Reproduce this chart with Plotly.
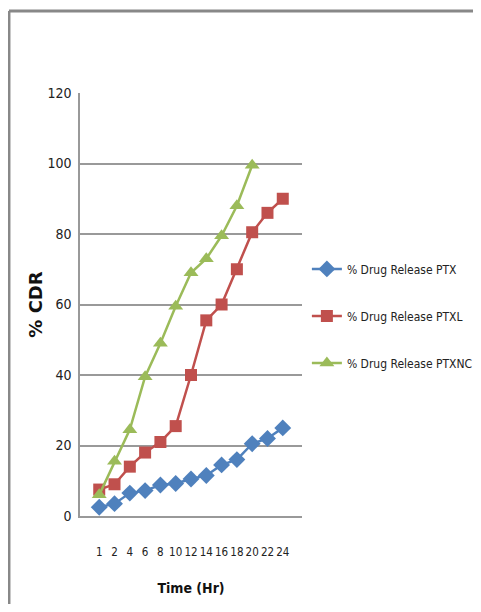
import plotly.graph_objects as go

time_hr = ["1", "2", "4", "6", "8", "10", "12", "14", "16", "18", "20", "22", "24"]
ptx = [2.5, 3.5, 6.5, 7.2, 8.8, 9.2, 10.5, 11.5, 14.5, 16, 20.5, 22, 25]
ptxl = [7.5, 9, 14, 18, 21, 25.5, 40, 55.5, 60, 70, 80.5, 86, 90]
ptxnc = [6, 15.5, 24.5, 39.5, 49, 59.5, 69, 73, 79.5, 88, 99.5, None, None]
y_ticks = [0, 20, 40, 60, 80, 100, 120]

FONT = "DejaVu Sans Condensed, Liberation Sans Narrow, sans-serif"

series = [
    ("% Drug Release PTX", ptx, "#4F81BD", "diamond", 13),
    ("% Drug Release PTXL", ptxl, "#C0504D", "square", 12),
    ("% Drug Release PTXNC", ptxnc, "#9BBB59", "triangle-up", 13),
]

fig = go.Figure()
for i, (name, vals, color, sym, size) in enumerate(series):
    fig.add_trace(go.Scatter(
        x=time_hr, y=vals, name=name, mode="lines+markers",
        line=dict(color=color, width=2.5),
        marker=dict(symbol=sym, size=size, color=color),
        legendgroup=f"g{i}",
        connectgaps=False,
    ))

# page body has an 8px margin, so the figure is drawn 8px in from the top-left
fig.update_layout(
    width=465, height=596,
    margin=dict(l=72, r=171, t=85, b=88, autoexpand=False),
    paper_bgcolor="white", plot_bgcolor="white",
    font=dict(family=FONT, size=14, color="#222222"),
    showlegend=True,
    legend=dict(
        x=1.022, y=0.473, xanchor="left", yanchor="middle",
        font=dict(family=FONT, size=12, color="#222222"),
        tracegroupgap=28, itemwidth=30,
        bgcolor="rgba(0,0,0,0)",
    ),
    xaxis=dict(
        type="category", dtick=1, tickangle=0, showgrid=False, showline=True, linecolor="#999999",
        linewidth=1.5, ticks="", tickfont=dict(family=FONT, size=11.5, color="#222222"),
        ticklabelstandoff=24,
        title=dict(text="<b>Time (Hr)</b>", font=dict(family=FONT, size=14, color="#111111"), standoff=26),
    ),
    yaxis=dict(
        range=[0, 120], tickvals=y_ticks, showgrid=True, gridcolor="#999999", gridwidth=1.5,
        showline=True, linecolor="#999999", linewidth=1.5, zeroline=False, ticks="",
        tickfont=dict(family=FONT, size=14, color="#222222"), ticklabelstandoff=4,
        title=dict(text="<b>% CDR</b>", font=dict(family="DejaVu Sans, sans-serif", size=18, color="#111111"), standoff=0),
    ),
    shapes=[
        dict(type="line", xref="paper", yref="paper", x0=-0.32, x1=1.9, y0=1.194, y1=1.194,
             line=dict(color="#888888", width=3)),
        dict(type="line", xref="paper", yref="paper", x0=-0.32, x1=-0.32, y0=-0.3, y1=1.194,
             line=dict(color="#888888", width=3)),
    ],
)

fig.write_html("out.html")
